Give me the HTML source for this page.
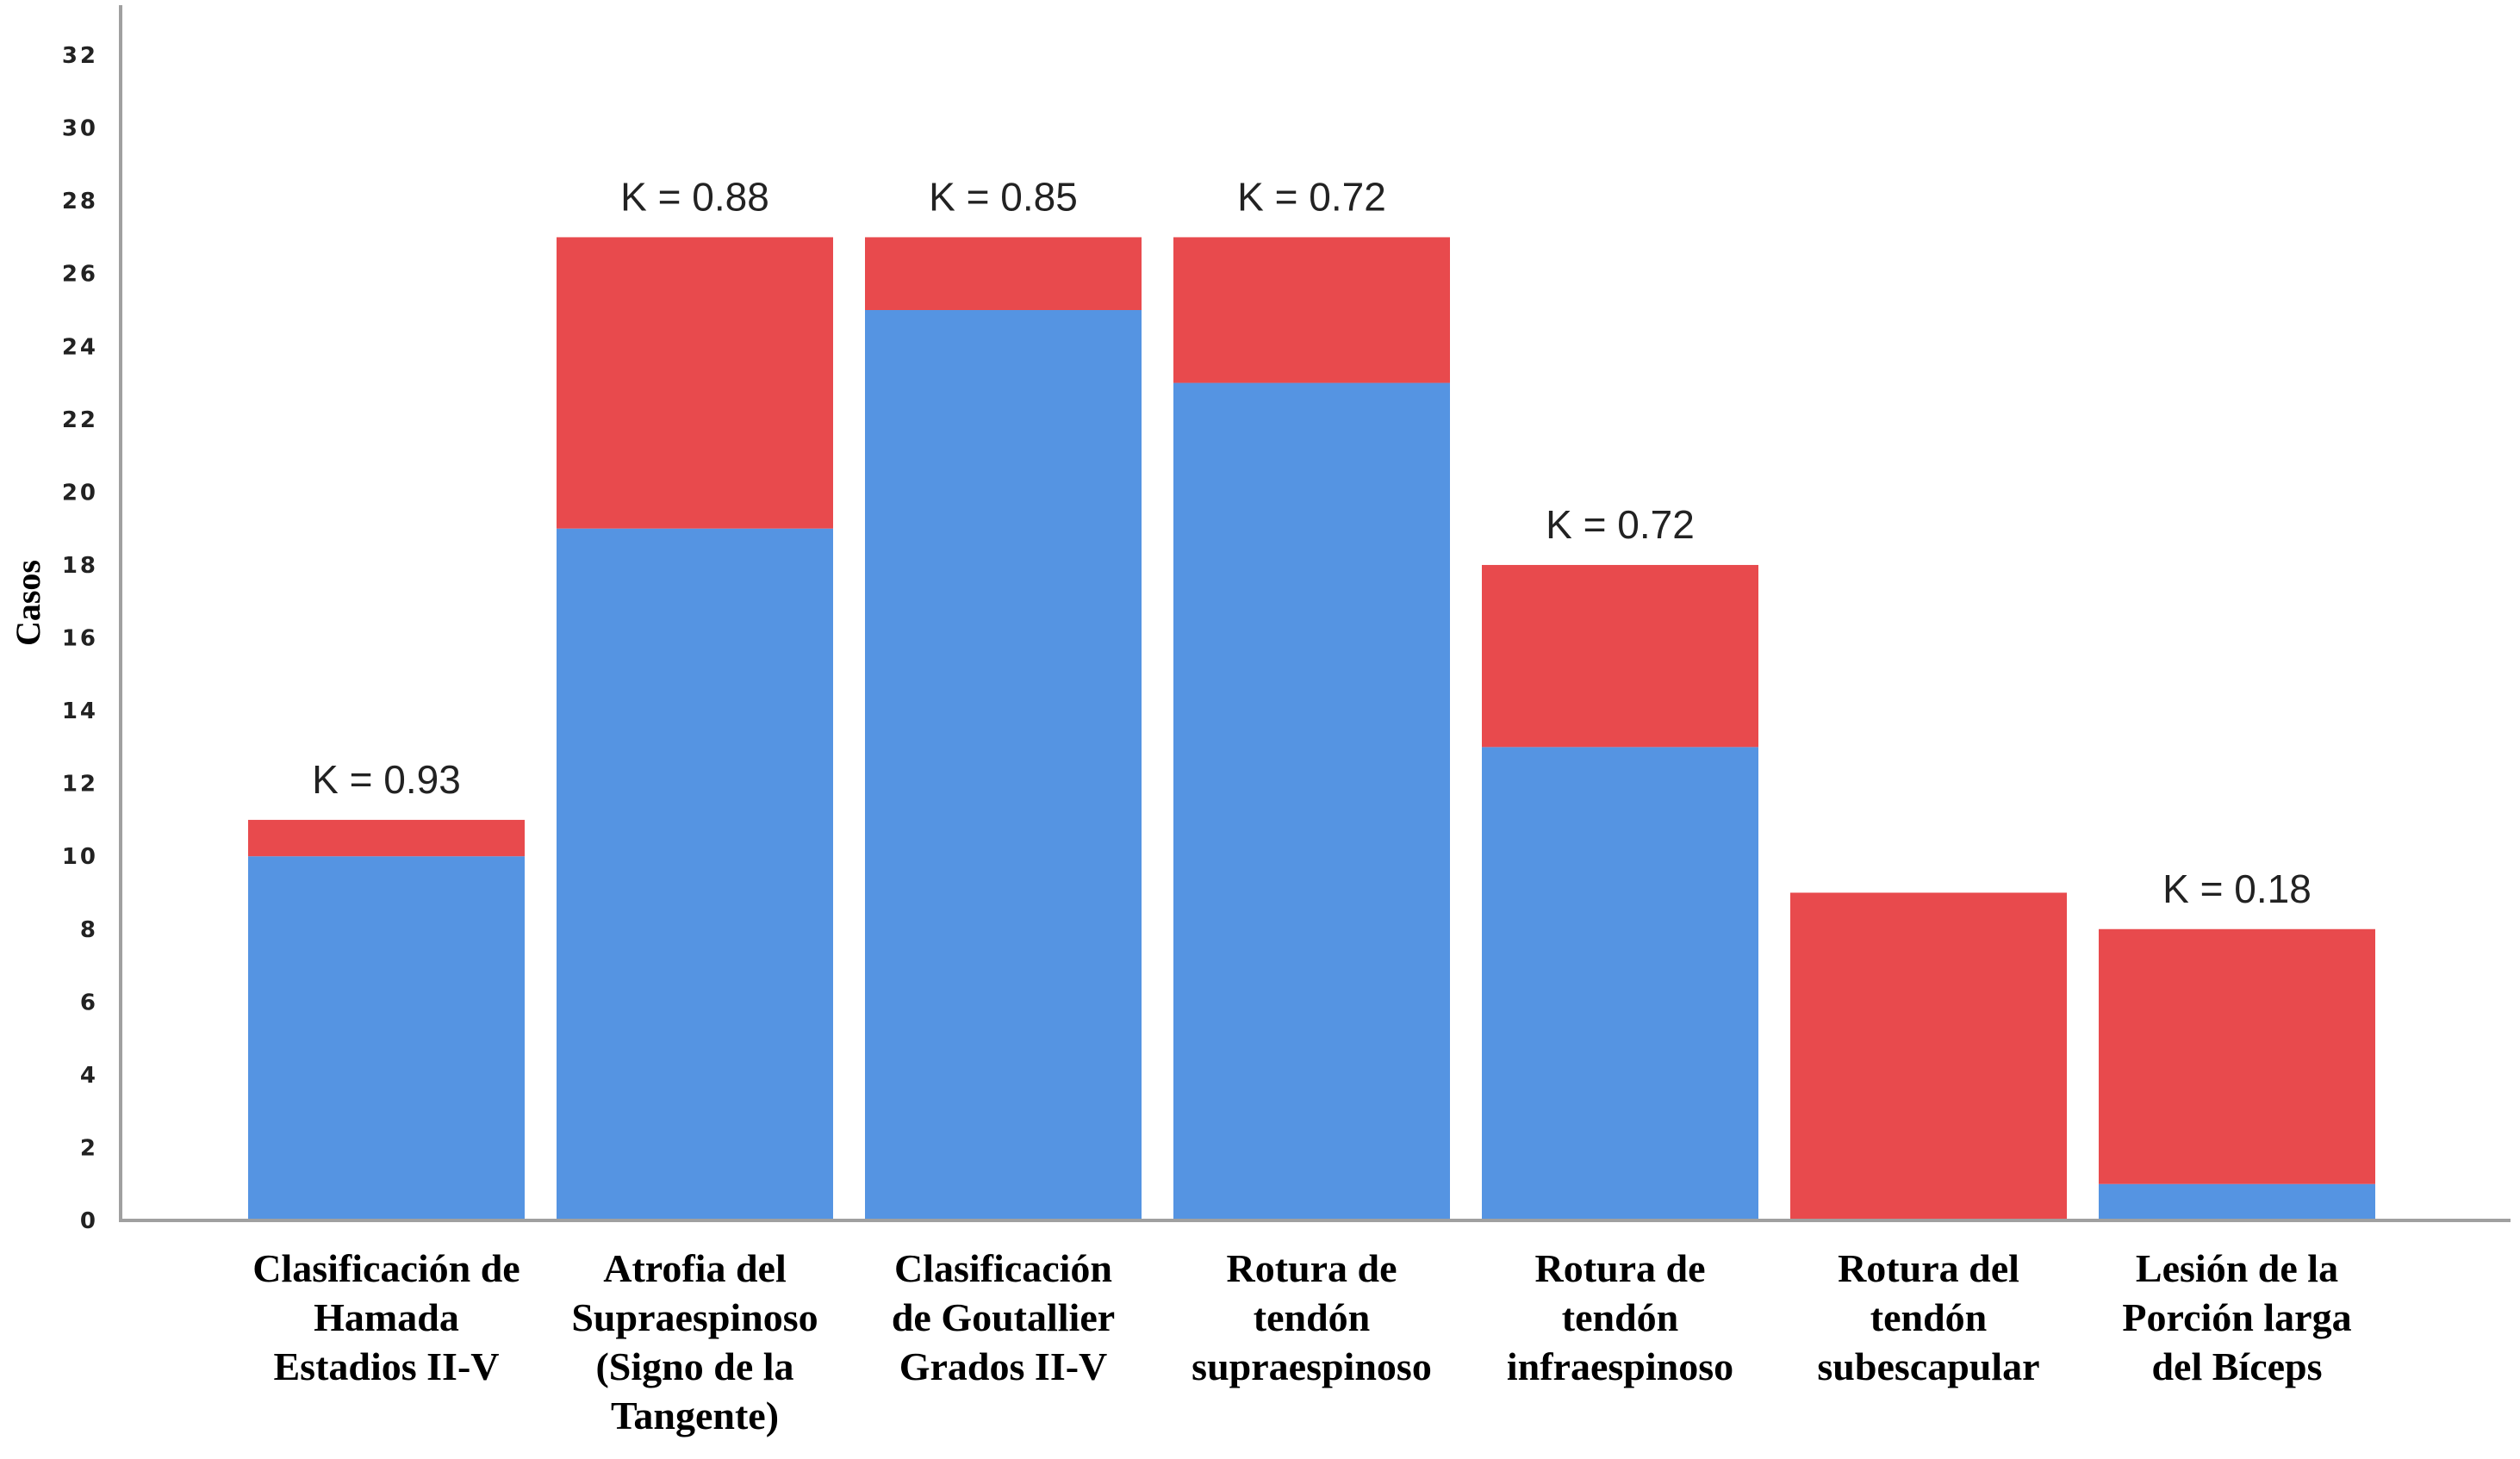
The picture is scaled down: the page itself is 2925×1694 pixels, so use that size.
<!DOCTYPE html>
<html><head><meta charset="utf-8"><style>
html,body{margin:0;padding:0;background:#fff;}
svg{display:block;}
</style></head><body>
<svg id="chart" width="2925" height="1694" viewBox="0 0 2925 1694" xmlns="http://www.w3.org/2000/svg">
<g id="yticks"></g>
<g id="bars"></g>
<g id="klabels"></g>
<g id="xlabels"></g>
<line x1="140" y1="6" x2="140" y2="1417" stroke="#a0a0a0" stroke-width="4"/>
<line x1="138" y1="1417" x2="2914" y2="1417" stroke="#a0a0a0" stroke-width="4"/>
<text transform="translate(46,700) rotate(-90)" text-anchor="middle" font-family="Liberation Serif, serif" font-weight="bold" font-size="40" fill="#000">Casos</text>
</svg>
<script>
const categories = [
  ["Clasificación de","Hamada","Estadios II-V"],
  ["Atrofia del","Supraespinoso","(Signo de la","Tangente)"],
  ["Clasificación","de Goutallier","Grados II-V"],
  ["Rotura de","tendón","supraespinoso"],
  ["Rotura de","tendón","infraespinoso"],
  ["Rotura del","tendón","subescapular"],
  ["Lesión de la","Porción larga","del Bíceps"]
];
const blueValues = [10, 19, 25, 23, 13, 0, 1];
const redValues = [1, 8, 2, 4, 5, 9, 7];
const kLabels = ["K = 0.93","K = 0.88","K = 0.85","K = 0.72","K = 0.72","","K = 0.18"];
const yTicks = [0,2,4,6,8,10,12,14,16,18,20,22,24,26,28,30,32];

const NS = "http://www.w3.org/2000/svg";
const y0 = 1417, pxPerUnit = 42.28;
const yScale = v => y0 - v * pxPerUnit;
const bandStart = 288, bandStep = 358, barW = 321;
const xLeft = i => bandStart + i * bandStep;
const xCenter = i => xLeft(i) + barW / 2;

function mk(tag, attrs, parent) {
  const el = document.createElementNS(NS, tag);
  for (const k in attrs) el.setAttribute(k, attrs[k]);
  parent.appendChild(el);
  return el;
}

const gT = document.getElementById('yticks');
yTicks.forEach(t => {
  const el = mk('text', {x: 114, y: yScale(t) + 9, 'text-anchor': 'end', 'font-family': 'DejaVu Sans, sans-serif', 'font-weight': 'bold', 'font-size': 26, fill: '#222', 'letter-spacing': '3'}, gT);
  
  
  el.textContent = t;
});

const gB = document.getElementById('bars');
const gK = document.getElementById('klabels');
const gX = document.getElementById('xlabels');
categories.forEach((lines, i) => {
  const b = blueValues[i], r = redValues[i];
  if (b > 0) {
    const rb = mk('rect', {x: xLeft(i), y: yScale(b), width: barW, height: y0 - yScale(b), fill: '#5594e2'}, gB);
    
    
  }
  if (r > 0) {
    const rr = mk('rect', {x: xLeft(i), y: yScale(b + r), width: barW, height: yScale(b) - yScale(b + r), fill: '#e84a4d'}, gB);
    
    
  }
  if (kLabels[i]) {
    const k = mk('text', {x: xCenter(i), y: yScale(b + r) - 31, 'text-anchor': 'middle', 'font-family': 'Liberation Sans, sans-serif', 'font-size': 46, fill: '#222'}, gK);
    
    
    k.textContent = kLabels[i];
  }
  lines.forEach((ln, j) => {
    const t = mk('text', {x: xCenter(i), y: 1488 + j * 57, 'text-anchor': 'middle', 'font-family': 'Liberation Serif, serif', 'font-weight': 'bold', 'font-size': 46, fill: '#000'}, gX);
    
    
    t.textContent = ln;
  });
});
</script>
</body></html>
